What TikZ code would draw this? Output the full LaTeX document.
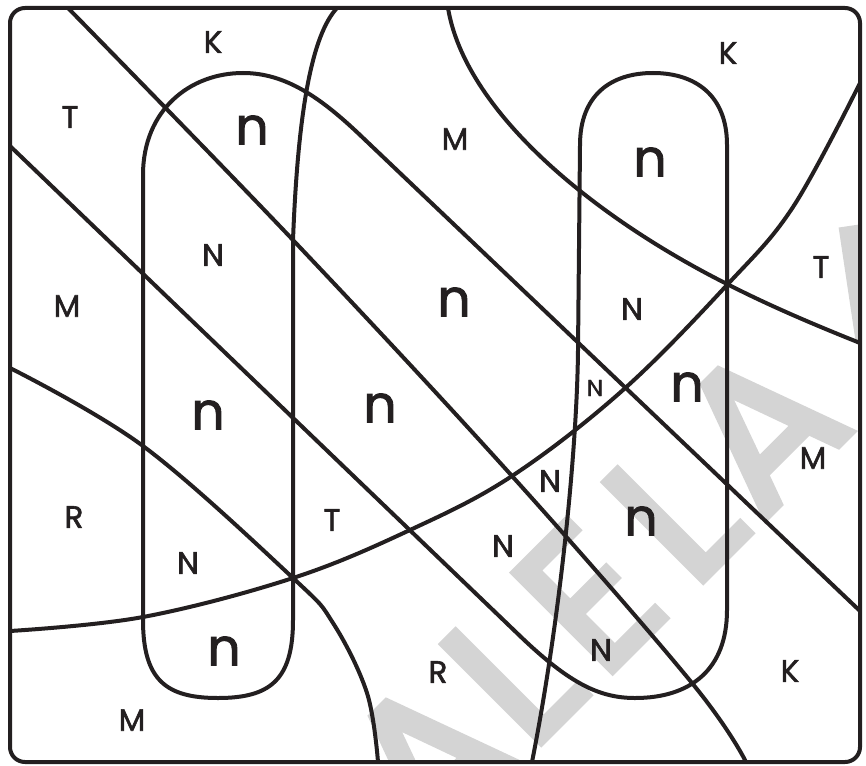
\documentclass[tikz,border=0pt]{standalone}
\usepackage{fontspec}
\setmainfont{Poppins}[FakeBold=1.8]
\newfontfamily\wmfont{Poppins}[FakeBold=3.5]
\definecolor{ink}{RGB}{35,31,32}
\definecolor{wmgray}{RGB}{212,212,212}
\begin{document}
\begin{tikzpicture}[x=1pt,y=-1pt,
  ln/.style={draw=ink,line width=4pt,line join=round},
  capl/.style={font=\fontsize{31}{31}\selectfont,text=ink,inner sep=0pt},
  capsm/.style={font=\fontsize{23}{23}\selectfont,text=ink,inner sep=0pt},
  lown/.style={font=\fontsize{52}{52}\selectfont,text=ink,inner sep=0pt},
  wm/.style={font=\wmfont\fontsize{200}{200}\selectfont,text=wmgray,inner sep=0pt,rotate=45,anchor=base}]
\useasboundingbox (0,0) rectangle (866,765);
% watermark
\begin{scope}
\clip[rounded corners=15pt] (10,8) rectangle (860,762);
\node[wm] (wa1) at (477,807) {A};
\node[wm] (wl1) at (561,723) {L};
\node[wm] (we) at (638,646) {E};
\node[wm] (wl2) at (723,561) {L};
\node[wm] (wa2) at (809,475) {A};
\coordinate (ws1) at (849,226);
\coordinate (ws2) at (866,340);
\draw[wmgray,line width=21pt] (ws1) -- (ws2);
\end{scope}
% left pill + vertical + line C
\draw[ln] (337,8) .. controls (312,35) and (298,110) .. (293,240) -- (293,620)
  .. controls (293,680) and (270,698) .. (218,698)
  .. controls (166,698) and (143,680) .. (143,620) -- (143,175)
  .. controls (143,110) and (190,73) .. (243,73)
  .. controls (285,73) and (320,97) .. (360,135) -- (860,611);
% line B + right pill + lower curve
\draw[ln] (10,146) -- (520,636)
  .. controls (570,684) and (600,698) .. (635,698)
  .. controls (690,698) and (727,670) .. (727,610) -- (727,145)
  .. controls (727,95) and (695,73) .. (653,73)
  .. controls (611,73) and (580,95) .. (580,145) -- (578,350)
  .. controls (577,450) and (560,620) .. (532,762);
% curve D
\draw[ln] (448,8) .. controls (465,110) and (590,215) .. (727,284)
  .. controls (770,306) and (815,325) .. (860,343);
% curve E
\draw[ln] plot[smooth,tension=0.6] coordinates {(10,631) (143,617) (293,578) (410,530) (512,476) (623,390) (727,285) (793,207) (860,83)};
% curve F
\draw[ln] plot[smooth,tension=0.6] coordinates {(10,368) (143,446) (293,578) (333,623) (367,693) (378,762)};
% line A
\draw[ln] plot[smooth,tension=0.6] coordinates {(68,8) (292,239) (512,476) (692,683) (746,762)};
% border
\draw[ln,rounded corners=15pt] (10,8) rectangle (860,762);
% labels
\node[capl] (k1) at (213,42) {K};
\node[capl] (t1) at (70,117) {T};
\node[lown] (n1) at (252,130) {n};
\node[capl] (m1) at (455,139) {M};
\node[capl] (k2) at (728,53) {K};
\node[lown] (n2) at (650,162) {n};
\node[capl] (nn1) at (213,255) {N};
\node[capl] (m2) at (67,306) {M};
\node[lown] (n3) at (454,302) {n};
\node[capl] (t2) at (821,267) {T};
\node[capl] (nn2) at (632,309) {N};
\node[capsm] (nn3) at (595,388) {N};
\node[lown] (n4) at (687,387) {n};
\node[lown] (n5) at (208,415) {n};
\node[lown] (n6) at (380,408) {n};
\node[capl] (m3) at (813,458) {M};
\node[capl] (nn4) at (550,481) {N};
\node[capl] (r1) at (74,517) {R};
\node[capl] (t3) at (332,520) {T};
\node[capl] (nn5) at (503,546) {N};
\node[lown] (n7) at (641,521) {n};
\node[capl] (nn6) at (188,563) {N};
\node[lown] (n8) at (224,651) {n};
\node[capl] (nn7) at (601,650) {N};
\node[capl] (r2) at (438,672) {R};
\node[capl] (k3) at (790,671) {K};
\node[capl] (m4) at (132,720) {M};
\end{tikzpicture}
\end{document}
